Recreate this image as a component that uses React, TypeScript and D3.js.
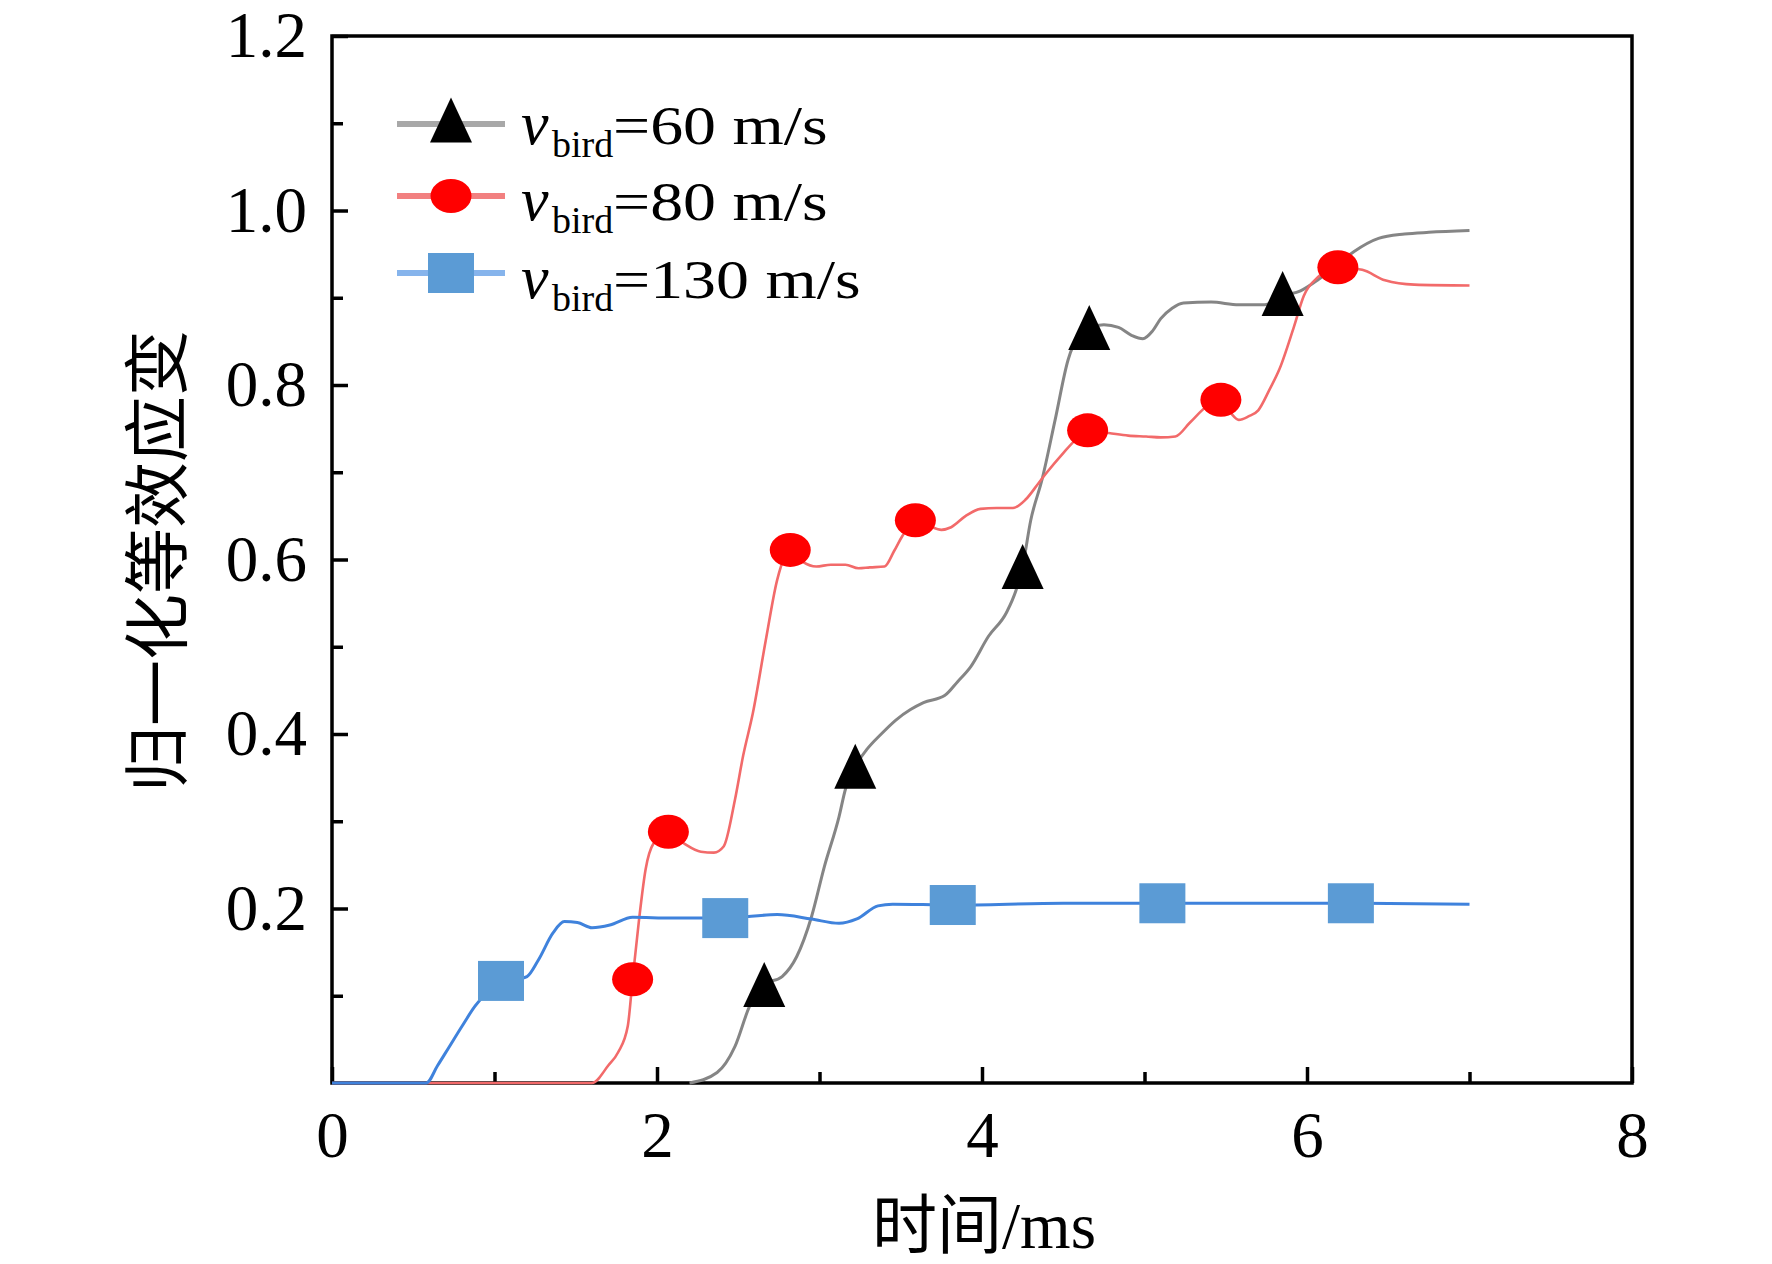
import { useEffect, useRef } from "react";
import * as d3 from "d3";

type Pt = [number, number];

// v_bird = 60 m/s
const series60: Pt[] = [
  [2.2, 0], [2.37, 0.012], [2.48, 0.042], [2.57, 0.088], [2.66, 0.113], [2.77, 0.122],
  [2.86, 0.145], [2.95, 0.19], [3.03, 0.248], [3.12, 0.305], [3.16, 0.337], [3.22, 0.363],
  [3.29, 0.382], [3.38, 0.4], [3.47, 0.416], [3.56, 0.428], [3.64, 0.436], [3.77, 0.444],
  [3.85, 0.46], [3.93, 0.477], [4.04, 0.512], [4.15, 0.539], [4.21, 0.565], [4.25, 0.592],
  [4.3, 0.645], [4.37, 0.692], [4.45, 0.76], [4.53, 0.829], [4.6, 0.858], [4.66, 0.866],
  [4.75, 0.869], [4.84, 0.866], [4.92, 0.857], [4.99, 0.853], [5.05, 0.862], [5.1, 0.876],
  [5.17, 0.888], [5.24, 0.894], [5.41, 0.895], [5.58, 0.892], [5.74, 0.892], [5.85, 0.902],
  [5.96, 0.908], [6.07, 0.921], [6.18, 0.937], [6.29, 0.953], [6.44, 0.968], [6.6, 0.973],
  [6.75, 0.975], [7.0, 0.977],
];
const markers60: Pt[] = [[2.66, 0.113], [3.22, 0.363], [4.25, 0.592], [4.66, 0.866], [5.85, 0.905]];

// v_bird = 80 m/s
const series80: Pt[] = [
  [0, 0], [1.6, 0], [1.7, 0.02], [1.76, 0.035], [1.82, 0.065], [1.85, 0.119], [1.89, 0.188],
  [1.93, 0.245], [1.98, 0.275], [2.07, 0.288], [2.17, 0.274], [2.27, 0.265], [2.35, 0.264],
  [2.41, 0.271], [2.48, 0.325], [2.53, 0.375], [2.59, 0.424], [2.67, 0.508], [2.74, 0.577],
  [2.82, 0.611], [2.9, 0.597], [2.98, 0.592], [3.07, 0.594], [3.16, 0.594], [3.24, 0.59],
  [3.31, 0.591], [3.4, 0.592], [3.46, 0.61], [3.51, 0.627], [3.59, 0.645], [3.68, 0.638],
  [3.75, 0.634], [3.81, 0.637], [3.9, 0.65], [3.99, 0.658], [4.09, 0.659], [4.19, 0.659],
  [4.27, 0.669], [4.35, 0.688], [4.4, 0.7], [4.5, 0.722], [4.58, 0.738], [4.65, 0.748],
  [4.78, 0.745], [4.9, 0.742], [5.01, 0.741], [5.1, 0.74], [5.19, 0.741], [5.28, 0.757],
  [5.38, 0.775], [5.47, 0.783], [5.53, 0.768], [5.58, 0.76], [5.64, 0.764], [5.7, 0.771],
  [5.77, 0.795], [5.83, 0.818], [5.92, 0.867], [5.98, 0.902], [6.07, 0.924], [6.19, 0.935],
  [6.34, 0.932], [6.48, 0.92], [6.66, 0.915], [7.0, 0.914],
];
const markers80: Pt[] = [
  [1.85, 0.119], [2.07, 0.288], [2.82, 0.611], [3.59, 0.645], [4.65, 0.748], [5.47, 0.783], [6.19, 0.935],
];

// v_bird = 130 m/s
const series130: Pt[] = [
  [0, 0], [0.58, 0], [0.65, 0.02], [0.72, 0.041], [0.8, 0.065], [0.88, 0.088], [0.96, 0.105],
  [1.04, 0.117], [1.14, 0.119], [1.2, 0.122], [1.27, 0.141], [1.36, 0.172], [1.43, 0.185],
  [1.51, 0.184], [1.6, 0.178], [1.71, 0.181], [1.85, 0.19], [2.09, 0.189], [2.42, 0.189],
  [2.74, 0.193], [2.95, 0.188], [3.12, 0.183], [3.23, 0.188], [3.36, 0.203], [3.45, 0.205],
  [3.82, 0.204], [4.5, 0.206], [5.11, 0.206], [6.27, 0.206], [7.0, 0.205],
];
const markers130: Pt[] = [[1.04, 0.117], [2.42, 0.189], [3.82, 0.204], [5.11, 0.206], [6.27, 0.206]];

const xTicks = [0, 2, 4, 6, 8];
const xMinorTicks = [1, 3, 5, 7];
const yTicks = [0.2, 0.4, 0.6, 0.8, 1.0, 1.2];
const yMinorTicks = [0.1, 0.3, 0.5, 0.7, 0.9, 1.1];
const legendLabels = ["=60 m/s", "=80 m/s", "=130 m/s"];
const xTitle = "时间/ms";
const yTitle = "归一化等效应变";

const serif = "'Liberation Serif', 'Times New Roman', 'Noto Sans CJK SC', serif";

export default function App() {
  const ref = useRef<SVGSVGElement>(null);

  useEffect(() => {
    const svg = d3.select(ref.current);
    svg.selectAll("*").remove();

    const left = 332, right = 1632, top = 36, bottom = 1083;
    const x = d3.scaleLinear().domain([0, 8]).range([left, right]);
    const y = d3.scaleLinear().domain([0, 1.2]).range([bottom, top]);

    // 축
    const styleAxis = (g: any) => {
      g.select(".domain").remove();
      g.selectAll("line").attr("stroke", "#000").attr("stroke-width", 3.5);
      g.selectAll("text").attr("font-size", 65).attr("font-family", serif).attr("fill", "#000");
    };

    svg.append("g")
      .attr("transform", `translate(${left},0)`)
      .call(d3.axisLeft(y).tickValues(yTicks).tickSize(-16).tickPadding(25).tickFormat(d3.format(".1f")))
      .call(styleAxis);
    svg.append("g")
      .attr("transform", `translate(${left},0)`)
      .call(d3.axisLeft(y).tickValues(yMinorTicks).tickSize(-11).tickFormat(() => ""))
      .call(styleAxis);
    svg.append("g")
      .attr("transform", `translate(0,${bottom})`)
      .call(d3.axisBottom(x).tickValues(xTicks).tickSize(-16).tickPadding(28).tickFormat(d3.format("d")))
      .call(styleAxis);
    svg.append("g")
      .attr("transform", `translate(0,${bottom})`)
      .call(d3.axisBottom(x).tickValues(xMinorTicks).tickSize(-11).tickFormat(() => ""))
      .call(styleAxis);

    svg.append("rect")
      .attr("x", left).attr("y", top)
      .attr("width", right - left).attr("height", bottom - top)
      .attr("fill", "none").attr("stroke", "#000").attr("stroke-width", 3.5);

    svg.append("text")
      .attr("x", 984).attr("y", 1248)
      .attr("text-anchor", "middle")
      .attr("font-size", 65).attr("font-family", serif)
      .text(xTitle);
    svg.append("text")
      .attr("transform", "translate(181,561) rotate(-90)")
      .attr("text-anchor", "middle")
      .attr("font-size", 66).attr("font-family", "'Noto Sans CJK SC', sans-serif")
      .text(yTitle);

    const line = d3.line<Pt>().x(d => x(d[0])).y(d => y(d[1])).curve(d3.curveMonotoneX);

    const series = [
      { pts: series60, marks: markers60, stroke: "#858585", width: 3, fill: "#000", shape: "tri", legendStroke: "#a8a8a8" },
      { pts: series80, marks: markers80, stroke: "#f26a6a", width: 2.6, fill: "#ff0000", shape: "circle", legendStroke: "#f28080" },
      { pts: series130, marks: markers130, stroke: "#3f82dc", width: 3, fill: "#5b9bd5", shape: "square", legendStroke: "#86b4ec" },
    ];

    series.forEach(s => {
      svg.append("path")
        .attr("fill", "none")
        .attr("stroke", s.stroke)
        .attr("stroke-width", s.width)
        .attr("stroke-linejoin", "round")
        .attr("d", line(s.pts));
    });

    const drawMarker = (g: any, shape: string, cx: number, cy: number, fill: string) => {
      if (shape === "tri") {
        g.append("path").attr("d", `M${cx},${cy - 22.5}L${cx + 21},${cy + 22.5}L${cx - 21},${cy + 22.5}Z`).attr("fill", fill);
      } else if (shape === "circle") {
        g.append("ellipse").attr("cx", cx).attr("cy", cy).attr("rx", 20.5).attr("ry", 17).attr("fill", fill);
      } else {
        g.append("rect").attr("x", cx - 23).attr("y", cy - 20).attr("width", 46).attr("height", 40).attr("fill", fill);
      }
    };

    series.forEach(s => {
      const g = svg.append("g");
      s.marks.forEach(d => drawMarker(g, s.shape, x(d[0]), y(d[1]), s.fill));
    });

    // 범례
    const rowLine = [124, 196, 273];
    const rowBase = [144, 220, 298];
    series.forEach((s, i) => {
      const g = svg.append("g");
      g.append("line")
        .attr("x1", 397).attr("x2", 505)
        .attr("y1", rowLine[i]).attr("y2", rowLine[i])
        .attr("stroke", s.legendStroke).attr("stroke-width", 6);
      drawMarker(g, s.shape, 451, rowLine[i] - (i === 0 ? 4 : 0), s.fill);
      g.append("text")
        .attr("x", 521).attr("y", rowBase[i])
        .attr("font-size", 62).attr("font-style", "italic").attr("font-family", serif)
        .text("v");
      g.append("text")
        .attr("x", 552).attr("y", rowBase[i] + 13)
        .attr("font-size", 38).attr("font-family", serif)
        .text("bird");
      g.append("text")
        .attr("transform", `translate(613,${rowBase[i]}) scale(1.22,1)`)
        .attr("font-size", 54).attr("font-family", serif)
        .text(legendLabels[i]);
    });
  }, []);

  return (
    <svg
      ref={ref}
      width={1772}
      height={1264}
      style={{ position: "absolute", left: 0, top: 0, background: "#fff" }}
    />
  );
}
